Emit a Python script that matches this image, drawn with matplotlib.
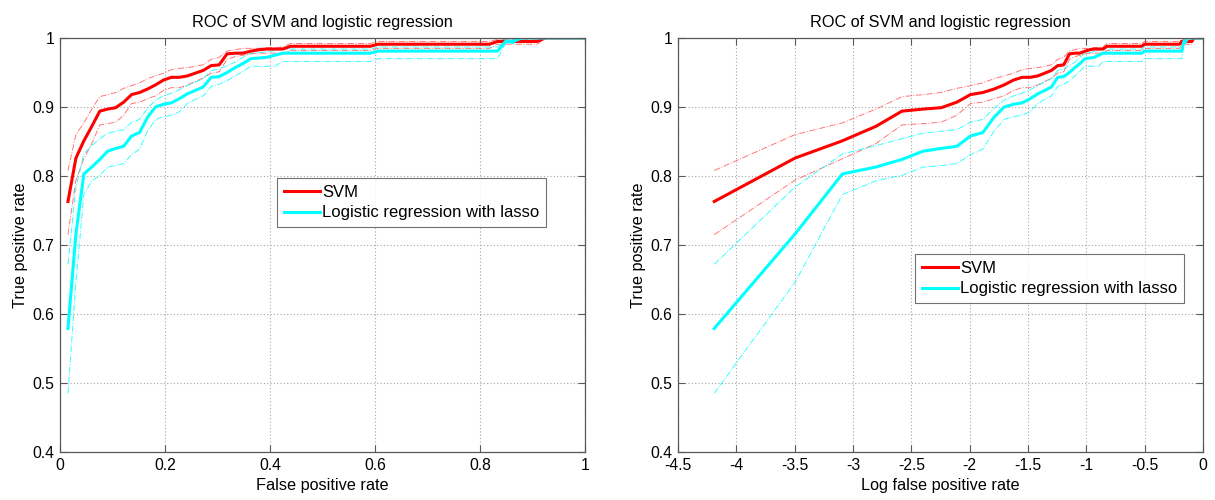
import numpy as np
import matplotlib
matplotlib.use("Agg")
import matplotlib.pyplot as plt

plt.rcParams['font.family'] = ['Liberation Sans', 'DejaVu Sans']
plt.rcParams['axes.unicode_minus'] = False

# ---- data ----
n_neg = 66
fpr = np.arange(1, n_neg + 1) / n_neg

svm_mean = [0.763, 0.826, 0.851, 0.872, 0.894, 0.897, 0.899, 0.907, 0.918, 0.921,
            0.926, 0.932, 0.939, 0.943, 0.943, 0.945, 0.949, 0.953, 0.960, 0.961,
            0.977, 0.978, 0.978, 0.981, 0.983, 0.984, 0.984, 0.984, 0.988, 0.988,
            0.988, 0.988, 0.988, 0.988, 0.988, 0.988, 0.988, 0.988, 0.988, 0.991,
            0.991, 0.991, 0.991, 0.991, 0.991, 0.991, 0.991, 0.991, 0.991, 0.991,
            0.991, 0.991, 0.991, 0.991, 0.995, 0.995, 0.995, 0.995, 0.995, 0.995,
            1.0, 1.0, 1.0, 1.0, 1.0, 1.0]
svm_upper = [0.808, 0.860, 0.877, 0.897, 0.915, 0.918, 0.921, 0.927, 0.931, 0.935,
             0.941, 0.945, 0.949, 0.954, 0.956, 0.957, 0.959, 0.961, 0.969, 0.972,
             0.981, 0.983, 0.985, 0.985, 0.985, 0.986, 0.986, 0.987, 0.992, 0.992,
             0.992, 0.992, 0.992, 0.992, 0.992, 0.992, 0.992, 0.992, 0.992, 0.995,
             0.995, 0.995, 0.995, 0.995, 0.995, 0.995, 0.995, 0.995, 0.995, 0.995,
             0.995, 0.995, 0.995, 0.995, 0.998, 0.998, 0.998, 0.998, 0.998, 0.998,
             1.0, 1.0, 1.0, 1.0, 1.0, 1.0]
svm_lower = [0.715, 0.794, 0.825, 0.847, 0.874, 0.876, 0.878, 0.888, 0.905, 0.907,
             0.912, 0.916, 0.924, 0.928, 0.928, 0.932, 0.937, 0.942, 0.949, 0.951,
             0.969, 0.973, 0.975, 0.977, 0.978, 0.978, 0.978, 0.978, 0.982, 0.982,
             0.982, 0.982, 0.982, 0.982, 0.982, 0.982, 0.982, 0.982, 0.982, 0.985,
             0.985, 0.985, 0.985, 0.985, 0.985, 0.985, 0.985, 0.985, 0.985, 0.985,
             0.985, 0.985, 0.985, 0.985, 0.991, 0.991, 0.991, 0.991, 0.991, 0.991,
             1.0, 1.0, 1.0, 1.0, 1.0, 1.0]

lr_mean = [0.579, 0.716, 0.803, 0.813, 0.824, 0.836, 0.840, 0.843, 0.858, 0.863,
           0.885, 0.900, 0.904, 0.906, 0.912, 0.919, 0.924, 0.929, 0.943, 0.944,
           0.950, 0.957, 0.963, 0.970, 0.971, 0.972, 0.975, 0.978, 0.978, 0.978,
           0.978, 0.978, 0.978, 0.978, 0.978, 0.978, 0.978, 0.978, 0.978, 0.981,
           0.981, 0.981, 0.981, 0.981, 0.981, 0.981, 0.981, 0.981, 0.981, 0.981,
           0.981, 0.981, 0.981, 0.981, 0.981, 0.995, 0.995, 1.0, 1.0, 1.0,
           1.0, 1.0, 1.0, 1.0, 1.0, 1.0]
lr_upper = [0.672, 0.784, 0.832, 0.844, 0.854, 0.862, 0.865, 0.867, 0.878, 0.882,
            0.898, 0.910, 0.916, 0.920, 0.925, 0.931, 0.936, 0.941, 0.953, 0.955,
            0.960, 0.965, 0.972, 0.978, 0.979, 0.980, 0.982, 0.984, 0.984, 0.984,
            0.984, 0.984, 0.984, 0.984, 0.984, 0.984, 0.984, 0.984, 0.984, 0.987,
            0.987, 0.987, 0.987, 0.987, 0.987, 0.987, 0.987, 0.987, 0.987, 0.987,
            0.987, 0.987, 0.987, 0.987, 0.987, 0.998, 0.998, 1.0, 1.0, 1.0,
            1.0, 1.0, 1.0, 1.0, 1.0, 1.0]
lr_lower = [0.485, 0.646, 0.773, 0.793, 0.801, 0.813, 0.815, 0.818, 0.831, 0.839,
            0.865, 0.882, 0.886, 0.888, 0.893, 0.905, 0.911, 0.916, 0.930, 0.933,
            0.938, 0.945, 0.952, 0.959, 0.959, 0.959, 0.959, 0.966, 0.966, 0.966,
            0.966, 0.966, 0.966, 0.966, 0.966, 0.966, 0.966, 0.966, 0.966, 0.970,
            0.970, 0.970, 0.970, 0.970, 0.970, 0.970, 0.970, 0.970, 0.970, 0.970,
            0.970, 0.970, 0.970, 0.970, 0.970, 0.992, 0.992, 1.0, 1.0, 1.0,
            1.0, 1.0, 1.0, 1.0, 1.0, 1.0]

series_labels = ['SVM', 'Logistic regression with lasso']
title_text = 'ROC of SVM and logistic regression'
x1_ticks = [0, 0.2, 0.4, 0.6, 0.8, 1]
x1_ticklabels = ['0', '0.2', '0.4', '0.6', '0.8', '1']
x2_ticks = [-4.5, -4, -3.5, -3, -2.5, -2, -1.5, -1, -0.5, 0]
x2_ticklabels = ['-4.5', '-4', '-3.5', '-3', '-2.5', '-2', '-1.5', '-1', '-0.5', '0']
y_ticks = [0.4, 0.5, 0.6, 0.7, 0.8, 0.9, 1.0]
y_ticklabels = ['0.4', '0.5', '0.6', '0.7', '0.8', '0.9', '1']

# ---- figure ----
W, H = 1215, 500
fig = plt.figure(figsize=(W / 100, H / 100), dpi=100)
ax1 = fig.add_axes([60 / W, 48 / H, 525 / W, 414 / H])
ax2 = fig.add_axes([678 / W, 48 / H, 525 / W, 414 / H])

FS_TICK = 11.3
FS_TEXT = 11.7
FS_LEG = 12.0
RED = '#ff0000'
CYAN = '#00ffff'

def draw(ax, x, xlabel, xticks, xticklabels, xlim, legend_anchor):
    ax.plot(x, svm_upper, linestyle='-.', color='#ff5555', lw=0.7, alpha=0.8)
    ax.plot(x, svm_lower, linestyle='-.', color='#ff5555', lw=0.7, alpha=0.8)
    ax.plot(x, lr_upper, linestyle='-.', color=CYAN, lw=0.7, alpha=0.8)
    ax.plot(x, lr_lower, linestyle='-.', color=CYAN, lw=0.7, alpha=0.8)
    l1, = ax.plot(x, svm_mean, color=RED, lw=2.2, label=series_labels[0])
    l2, = ax.plot(x, lr_mean, color=CYAN, lw=2.2, label=series_labels[1])
    ax.set_xlim(*xlim)
    ax.set_ylim(0.4, 1.0)
    ax.set_xticks(xticks)
    ax.set_xticklabels(xticklabels)
    ax.set_yticks(y_ticks)
    ax.set_yticklabels(y_ticklabels)
    ax.grid(True, linestyle=(0, (1, 2)), color='0.65', linewidth=0.8)
    ax.tick_params(direction='in', top=True, right=True, length=5, width=0.8,
                   color='0.35', labelsize=FS_TICK, pad=4)
    for s in ax.spines.values():
        s.set_color('0.35')
        s.set_linewidth(0.9)
    ax.set_xlabel(xlabel, fontsize=FS_TEXT, labelpad=4)
    ax.set_ylabel('True positive rate', fontsize=FS_TEXT, labelpad=3)
    ax.set_title(title_text, fontsize=FS_TEXT, pad=8)
    leg = ax.legend(handles=[l1, l2], loc='upper left', bbox_to_anchor=legend_anchor,
                    fontsize=FS_LEG, frameon=True, fancybox=False, borderaxespad=0,
                    handlelength=2.15, handletextpad=0.15, borderpad=0.4,
                    labelspacing=0.35)
    leg.get_frame().set_edgecolor('0.3')
    leg.get_frame().set_linewidth(0.8)

draw(ax1, fpr, 'False positive rate', x1_ticks, x1_ticklabels, (0, 1),
     ((277 - 60) / 525, (452 - 178) / 414))
draw(ax2, np.log(fpr), 'Log false positive rate', x2_ticks, x2_ticklabels, (-4.5, 0),
     ((915 - 678) / 525, (452 - 254) / 414))

fig.savefig('out.png', dpi=100)
